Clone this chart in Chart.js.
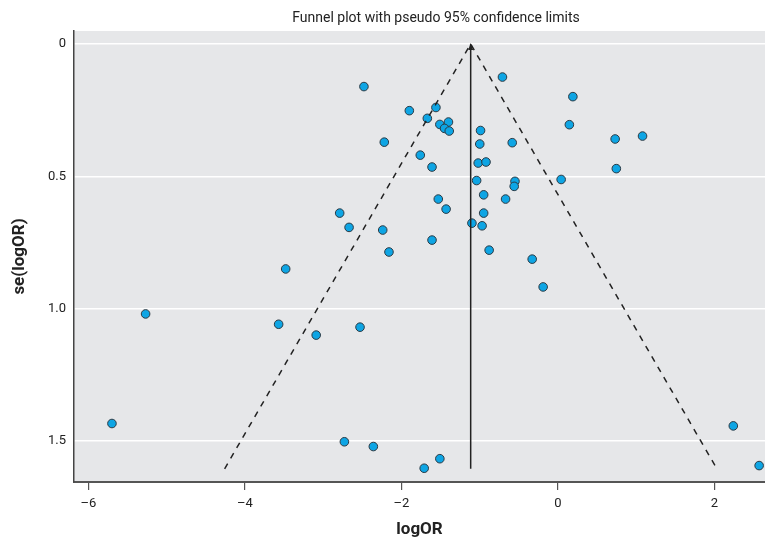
<!DOCTYPE html>
<html>
<head>
<meta charset="utf-8">
<script src="https://cdn.jsdelivr.net/npm/chart.js@4"></script>
<style>
  html, body { margin: 0; padding: 0; background: #fff; overflow: hidden; }
  canvas { display: block; }
</style>
</head>
<body>
<canvas id="chart" width="765" height="538"></canvas>
<script>
"use strict";

///////////////////////////////////////
// Data

const logOR = [
  -5.70, -5.27, -3.48, -3.57, -3.09, -2.53, -2.73, -2.36, -1.71, -1.51,
  2.24, 2.57, -2.48, -1.90, -1.56, -1.67, -1.51, -1.40, -1.45, -1.39,
  -0.99, -2.22, -1.00, -1.76, -1.61, -1.02, -0.92, -1.04, -0.95, -1.53,
  -1.43, -0.95, -2.79, -2.67, -2.24, -1.10, -0.97, -0.71, 0.745, -0.55,
  -0.56, 0.04, -0.67, -1.61, -2.16, -0.88, -0.33, -0.19, 0.19, 0.145,
  0.73, 1.08, -0.585,
];
const seLogOR = [
  1.434, 1.020, 0.850, 1.059, 1.100, 1.070, 1.503, 1.521, 1.603, 1.567,
  1.443, 1.593, 0.161, 0.252, 0.240, 0.281, 0.304, 0.295, 0.319, 0.329,
  0.327, 0.371, 0.378, 0.420, 0.465, 0.450, 0.446, 0.516, 0.570, 0.586,
  0.624, 0.639, 0.639, 0.693, 0.703, 0.677, 0.687, 0.125, 0.471, 0.519,
  0.538, 0.512, 0.586, 0.741, 0.786, 0.779, 0.813, 0.918, 0.199, 0.305,
  0.359, 0.348, 0.373,
];

// pseudo 95% limits: left bottom, apex, right bottom
const limitX = [-4.26, -1.116, 2.03];
const limitY = [1.605, 0, 1.605];
// pooled estimate line
const pooledX = [-1.116, -1.116];
const pooledY = [1.605, 0];

const xTicks = [-6, -4, -2, 0, 2];
const xTickLabels = ["–6", "–4", "–2", "0", "2"];
const yTicks = [0, 0.5, 1, 1.5];
const yTickLabels = ["0", "0.5", "1.0", "1.5"];

///////////////////////////////////////
// Helpers

const toPoints = function (xs, ys) {
  return xs.map((x, i) => ({ x: x, y: ys[i] }));
};

const font = "'Liberation Sans Narrow', 'Roboto', sans-serif";

const noPadding = function (axis) {
  axis.paddingLeft = 0;
  axis.paddingRight = 0;
  axis.paddingTop = 0;
  axis.paddingBottom = 0;
};

///////////////////////////////////////
// Plugins

const plotBackground = {
  id: "plotBackground",
  beforeDraw(chart) {
    const { ctx, chartArea: a } = chart;
    ctx.save();
    ctx.fillStyle = "#e6e7e9";
    ctx.fillRect(a.left, a.top, a.right - a.left, a.bottom - a.top);
    ctx.restore();
  },
};

const topTitle = {
  id: "topTitle",
  afterDraw(chart) {
    const ctx = chart.ctx;
    ctx.save();
    ctx.font = "14px " + font;
    ctx.fillStyle = "#222";
    ctx.textAlign = "center";
    ctx.textBaseline = "middle";
    ctx.fillText("Funnel plot with pseudo 95% confidence limits", 436, 18);
    ctx.restore();
  },
};

const arrowHead = {
  id: "arrowHead",
  afterDatasetsDraw(chart) {
    const { ctx, scales } = chart;
    const px = scales.x.getPixelForValue(pooledX[1]);
    const py = scales.y.getPixelForValue(pooledY[1]);
    ctx.save();
    ctx.fillStyle = "#222";
    ctx.beginPath();
    ctx.moveTo(px, py - 1);
    ctx.lineTo(px - 2.5, py + 6);
    ctx.lineTo(px + 2.5, py + 6);
    ctx.closePath();
    ctx.fill();
    ctx.restore();
  },
};

///////////////////////////////////////
// Chart config

const config = {
  type: "scatter",
  data: {
    datasets: [
      {
        label: "Studies",
        data: toPoints(logOR, seLogOR),
        backgroundColor: "#0ea5e4",
        borderColor: "#2b3a44",
        borderWidth: 1,
        pointRadius: 4.3,
        order: 1,
      },
      {
        label: "Pseudo 95% limits",
        type: "line",
        data: toPoints(limitX, limitY),
        borderColor: "#222",
        borderWidth: 1.5,
        borderDash: [6, 6],
        pointRadius: 0,
        fill: false,
        order: 0,
      },
      {
        label: "Pooled",
        type: "line",
        data: toPoints(pooledX, pooledY),
        borderColor: "#222",
        borderWidth: 1.5,
        pointRadius: 0,
        fill: false,
        order: 0,
      },
    ],
  },
  options: {
    responsive: false,
    animation: false,
    layout: {
      autoPadding: false,
      padding: { top: 31, right: 0, left: 0, bottom: 0 },
    },
    plugins: {
      legend: { display: false },
      tooltip: { enabled: false },
    },
    scales: {
      x: {
        type: "linear",
        min: -6.185,
        max: 2.645,
        afterBuildTicks: (axis) => {
          axis.ticks = xTicks.map((v) => ({ value: v }));
        },
        afterFit: (axis) => {
          axis.height = 56;
          noPadding(axis);
        },
        ticks: {
          callback: (v) => xTickLabels[xTicks.indexOf(v)],
          color: "#222",
          font: { family: font, size: 13 },
          padding: 6,
          maxRotation: 0,
        },
        grid: {
          drawOnChartArea: false,
          drawTicks: true,
          tickLength: 8,
          color: "#555",
          lineWidth: 1.2,
        },
        border: { color: "#555", width: 2 },
        title: {
          display: true,
          text: "logOR",
          color: "#222",
          font: { family: font, size: 17, weight: "bold" },
          padding: { top: 0, bottom: -2 },
        },
      },
      y: {
        type: "linear",
        reverse: true,
        min: -0.049,
        max: 1.655,
        afterBuildTicks: (axis) => {
          axis.ticks = yTicks.map((v) => ({ value: v }));
        },
        afterFit: (axis) => {
          axis.width = 74;
          noPadding(axis);
        },
        ticks: {
          callback: (v) => yTickLabels[yTicks.indexOf(v)],
          color: "#222",
          font: { family: font, size: 13 },
          padding: 8,
        },
        grid: {
          drawTicks: false,
          color: "#ffffff",
          lineWidth: 1.5,
        },
        border: { color: "#444", width: 1.5 },
        title: {
          display: true,
          text: "se(logOR)",
          color: "#222",
          font: { family: font, size: 17, weight: "bold" },
          padding: { top: 10, bottom: 0 },
        },
      },
    },
  },
  plugins: [plotBackground, topTitle, arrowHead],
};

///////////////////////////////////////
// Chart display

const chartEl = document.getElementById("chart");
const chart = new Chart(chartEl, config);
</script>
</body>
</html>
